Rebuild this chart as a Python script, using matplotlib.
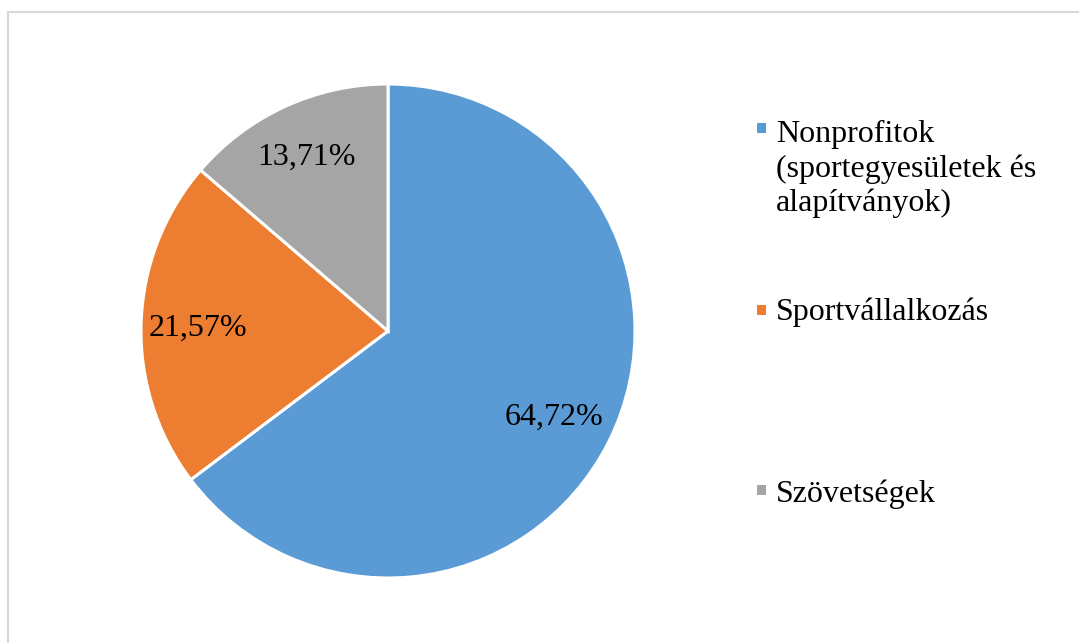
import matplotlib
matplotlib.use("Agg")
import matplotlib.pyplot as plt
from matplotlib.patches import Rectangle
import numpy as np

# Data
categories = [
    "Nonprofitok\n(sportegyesületek és\nalapítványok)",
    "Sportvállalkozás",
    "Szövetségek",
]
shares = [64.72, 21.57, 13.71]
pct_labels = ["64,72%", "21,57%", "13,71%"]

colors = ["#5B9BD5", "#ED7D31", "#A5A5A5"]
label_radius = [0.75, 0.77, 0.79]

W, H = 1079, 643
plt.rcParams["font.family"] = ["Liberation Serif", "DejaVu Serif"]

fig = plt.figure(figsize=(W / 100, H / 100), dpi=100)
fig.patch.set_facecolor("white")

# Chart frame (runs off the right and bottom edges)
fig.add_artist(Rectangle((8 / W, 1 - 12 / H - 2), 2, 2,
                         transform=fig.transFigure, fill=False,
                         edgecolor="#d9d9d9", linewidth=1.5))

cx, cy, r = 388, 331, 247
ax = fig.add_axes([(cx - r) / W, (H - cy - r) / H, 2 * r / W, 2 * r / H])
wedges, _ = ax.pie(shares, colors=colors, startangle=90, counterclock=False,
                   radius=1.0,
                   wedgeprops=dict(edgecolor="white", linewidth=2.2))
for w in wedges:
    w.set_clip_on(False)
ax.set_xlim(-1.0, 1.0)
ax.set_ylim(-1.0, 1.0)
ax.set_aspect("equal")
ax.axis("off")

for w, txt, rr in zip(wedges, pct_labels, label_radius):
    ang = np.deg2rad((w.theta1 + w.theta2) / 2)
    ax.text(rr * np.cos(ang), rr * np.sin(ang), txt, ha="center",
            va="center_baseline", fontsize=23, color="black")

# Legend drawn as figure text with square markers
legend_items = [(128, 142), (310, 320), (490, 502)]
line_step = 34.5
for (my, base_y), lab, col in zip(legend_items, categories, colors):
    fig.add_artist(Rectangle((757 / W, 1 - (my + 5) / H), 9 / W, 10 / H,
                             transform=fig.transFigure, facecolor=col,
                             edgecolor="none"))
    for i, line in enumerate(lab.split("\n")):
        fig.text(776 / W, 1 - (base_y + i * line_step) / H, line,
                 ha="left", va="baseline", fontsize=23, color="black")

fig.savefig("out.png", dpi=100)
